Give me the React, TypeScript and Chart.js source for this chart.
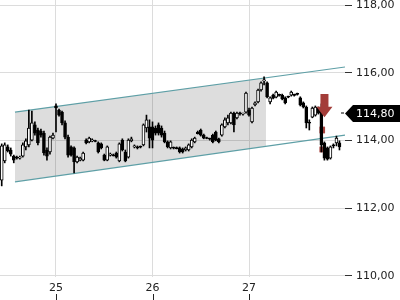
import React, { useEffect, useRef } from "react";
import { Chart, registerables } from "chart.js";

Chart.register(...registerables);

// ---- data ----
const START_DAY = 24.4375; // first candle (day units on x)
const STEP_DAY = 1 / 32;   // candle interval

const opens = [
  112.83, 113.4, 113.81, 113.72, 113.54, 113.51, 113.48, 113.54, 113.81, 113.87,
  114.01, 114.46, 114.31, 114.28, 114.22, 113.72, 113.66, 114.07, 115.02, 114.9,
  114.84, 114.52, 114.1, 113.81, 113.78, 113.37, 113.42, 113.42, 114.01, 113.96,
  113.99, 113.99, 113.93, 113.9, 113.57, 113.42, 113.57, 113.57, 113.63, 113.4,
  114.01, 113.66, 113.51, 113.99, 113.81, 113.81, 113.81, 113.87, 114.37, 114.4,
  114.4, 114.37, 114.46, 114.37, 114.22, 113.96, 113.78, 113.78, 113.78, 113.78,
  113.75, 113.72, 113.72, 113.81, 113.96, 114.25, 114.31, 114.16, 114.07, 114.05,
  114.16, 114.25, 114.05, 114.16, 114.4, 114.52, 114.52, 114.81, 114.67, 114.81,
  114.78, 114.84, 114.9, 114.55, 115.05, 115.14, 115.49, 115.76, 115.7, 115.14,
  115.34, 115.28, 115.34, 115.34, 115.26, 115.29, 115.34, 115.34, 115.37, 115.26,
  115.11, 114.99, 114.52, 114.69, 114.75, 114.96, 114.96, 113.93, 113.78, 113.48,
  113.87, 113.93, 113.93,
];
const highs = [
  113.9, 113.93, 113.87, 113.78, 113.57, 113.54, 113.54, 113.93, 114.05, 114.9,
  114.87, 114.55, 114.37, 114.34, 114.28, 113.78, 114.13, 114.22, 115.08, 114.93,
  114.87, 114.58, 114.16, 113.84, 113.81, 113.54, 113.51, 113.66, 114.05, 114.1,
  114.05, 114.01, 113.96, 113.93, 113.6, 113.84, 113.63, 113.6, 113.66, 113.93,
  114.05, 113.72, 114.05, 114.1, 113.87, 113.84, 113.84, 114.49, 114.75, 114.61,
  114.55, 114.43, 114.52, 114.43, 114.28, 113.99, 113.99, 113.81, 113.81, 113.81,
  113.78, 113.81, 113.9, 114.05, 114.1, 114.28, 114.34, 114.19, 114.1, 114.07,
  114.19, 114.28, 114.07, 114.49, 114.67, 114.75, 114.84, 114.84, 114.84, 114.84,
  114.81, 115.43, 114.96, 114.99, 115.14, 115.52, 115.73, 115.88, 115.73, 115.29,
  115.37, 115.46, 115.37, 115.37, 115.29, 115.31, 115.46, 115.37, 115.4, 115.29,
  115.14, 115.02, 114.61, 114.99, 115.02, 114.99, 115.08, 113.96, 113.81, 113.84,
  113.9, 114.13, 113.99,
];
const lows = [
  112.66, 113.34, 113.66, 113.54, 113.34, 113.45, 113.45, 113.51, 113.72, 113.81,
  113.99, 114.16, 113.87, 114.1, 113.57, 113.42, 113.6, 114.05, 114.25, 114.72,
  114.46, 114.05, 113.51, 113.54, 113.04, 113.34, 113.4, 113.4, 113.9, 113.93,
  113.96, 113.96, 113.63, 113.75, 113.4, 113.4, 113.54, 113.54, 113.48, 113.37,
  113.69, 113.37, 113.48, 113.96, 113.78, 113.75, 113.78, 113.84, 114.25, 113.78,
  113.78, 114.16, 114.16, 114.1, 113.93, 113.78, 113.75, 113.75, 113.75, 113.63,
  113.63, 113.69, 113.69, 113.78, 113.93, 114.19, 114.13, 114.05, 114.05, 114.01,
  113.93, 113.99, 113.93, 114.13, 114.37, 114.46, 114.49, 114.25, 114.64, 114.75,
  114.75, 114.81, 114.72, 114.52, 115.02, 115.11, 115.46, 115.64, 115.26, 115.08,
  115.23, 115.26, 115.31, 115.2, 115.08, 115.26, 115.31, 115.31, 115.34, 115.02,
  114.96, 114.37, 114.31, 114.67, 114.72, 114.78, 113.66, 113.42, 113.42, 113.45,
  113.78, 113.84, 113.72,
];
const closes = [
  113.84, 113.87, 113.69, 113.6, 113.42, 113.48, 113.51, 113.87, 113.99, 114.37,
  114.52, 114.22, 113.93, 114.16, 113.63, 113.54, 114.1, 114.16, 114.96, 114.75,
  114.52, 114.1, 113.57, 113.57, 113.37, 113.51, 113.48, 113.63, 113.93, 114.07,
  114.01, 113.97, 113.66, 113.78, 113.42, 113.81, 113.6, 113.55, 113.51, 113.9,
  113.72, 113.4, 114.01, 114.05, 113.84, 113.78, 113.8, 114.46, 114.61, 114.07,
  114.01, 114.22, 114.22, 114.16, 113.96, 113.81, 113.96, 113.77, 113.76, 113.66,
  113.66, 113.78, 113.87, 114.01, 114.07, 114.2, 114.16, 114.07, 114.06, 114.04,
  113.96, 114.01, 113.96, 114.46, 114.61, 114.67, 114.81, 114.46, 114.81, 114.79,
  114.81, 115.4, 114.75, 114.96, 115.11, 115.49, 115.7, 115.79, 115.29, 115.26,
  115.25, 115.43, 115.33, 115.23, 115.11, 115.28, 115.43, 115.33, 115.36, 115.05,
  114.99, 114.52, 114.51, 114.96, 114.99, 114.81, 113.87, 113.48, 113.45, 113.81,
  113.84, 114.07, 113.81,
];

// red highlighted segments on the drop candle
const signalDay = 27.759;
const signalRanges = [
  [114.22, 114.4],
  [113.66, 113.81],
];

// trend channel (day, price)
const channelUpper = [
  { x: 24.575, y: 114.84 },
  { x: 27.995, y: 116.17 },
];
const channelLower = [
  { x: 24.575, y: 112.78 },
  { x: 27.995, y: 114.16 },
];
const shadeTop = [
  { x: 24.575, y: 114.84 },
  { x: 27.176, y: 115.85 },
];
const shadeBottom = [
  { x: 24.575, y: 112.78 },
  { x: 27.176, y: 113.83 },
];

const xTicks = [25, 26, 27];
const yTicks = [110, 112, 114, 116, 118];
const lastPrice = 114.8;
const arrowDay = 27.782;
const arrowTop = 115.37;
const arrowNeck = 115.0;
const arrowTip = 114.69;

const fmt = (v: number) => v.toFixed(2).replace(".", ",");

export default function App() {
  const ref = useRef<HTMLCanvasElement>(null);

  useEffect(() => {
    if (!ref.current) return;
    const times = opens.map((_, i) => START_DAY + i * STEP_DAY);
    const wickData = times.map((t, i) => ({ x: t, y: [lows[i], highs[i]] }));
    const bodyData = times.map((t, i) => ({ x: t, y: [opens[i], closes[i]] }));
    const bodyColors = closes.map((c, i) => (c >= opens[i] ? "#ffffff" : "#000000"));
    const signalData = signalRanges.map((r) => ({ x: signalDay, y: r }));

    const overlay = {
      id: "overlay",
      afterDraw(chart: any) {
        const ctx = chart.ctx;
        const xs = chart.scales.x;
        const ys = chart.scales.y;
        const ca = chart.chartArea;
        ctx.save();
        // x tick marks below labels
        ctx.strokeStyle = "#222";
        ctx.lineWidth = 1;
        xTicks.forEach((v) => {
          const px = Math.round(xs.getPixelForValue(v)) + 0.5;
          ctx.beginPath();
          ctx.moveTo(px, chart.height - 6);
          ctx.lineTo(px, chart.height);
          ctx.stroke();
        });
        // red arrow
        const ax = xs.getPixelForValue(arrowDay);
        const aTop = ys.getPixelForValue(arrowTop);
        const aNeck = ys.getPixelForValue(arrowNeck);
        const aTip = ys.getPixelForValue(arrowTip);
        ctx.fillStyle = "#a33d39";
        ctx.beginPath();
        ctx.moveTo(ax - 4, aTop);
        ctx.lineTo(ax + 4, aTop);
        ctx.lineTo(ax + 4, aNeck);
        ctx.lineTo(ax + 8, aNeck);
        ctx.lineTo(ax, aTip);
        ctx.lineTo(ax - 8, aNeck);
        ctx.lineTo(ax - 4, aNeck);
        ctx.closePath();
        ctx.fill();
        // last price tag
        const py = ys.getPixelForValue(lastPrice);
        ctx.fillStyle = "#000";
        ctx.fillRect(ca.right - 4, Math.round(py) - 0.5, 3, 1);
        ctx.beginPath();
        ctx.moveTo(ca.right, py);
        ctx.lineTo(ca.right + 8, py - 8.5);
        ctx.lineTo(chart.width, py - 8.5);
        ctx.lineTo(chart.width, py + 8.5);
        ctx.lineTo(ca.right + 8, py + 8.5);
        ctx.closePath();
        ctx.fill();
        ctx.fillStyle = "#fff";
        ctx.font = "11px 'DejaVu Sans'";
        ctx.textBaseline = "middle";
        ctx.textAlign = "left";
        ctx.fillText(fmt(lastPrice), ca.right + 11, py + 0.5);
        ctx.restore();
      },
    };

    const chart = new Chart(ref.current, {
      type: "bar",
      data: {
        datasets: [
          {
            type: "bar",
            label: "body",
            data: bodyData as any,
            backgroundColor: bodyColors,
            borderColor: "#000",
            borderWidth: 1,
            borderSkipped: false,
            barThickness: 3,
            minBarLength: 1,
            grouped: false,
            order: 1,
          } as any,
          {
            type: "bar",
            label: "wick",
            data: wickData as any,
            backgroundColor: "#000",
            borderWidth: 0,
            barThickness: 1,
            grouped: false,
            order: 2,
          } as any,
          {
            type: "bar",
            label: "signal",
            data: signalData as any,
            backgroundColor: "#a8443f",
            borderWidth: 0,
            barThickness: 5,
            grouped: false,
            order: 3,
          } as any,
          {
            type: "line",
            label: "upper",
            data: channelUpper,
            borderColor: "#5e9fa6",
            borderWidth: 1.2,
            pointRadius: 0,
            fill: false,
            order: 5,
          } as any,
          {
            type: "line",
            label: "lower",
            data: channelLower,
            borderColor: "#5e9fa6",
            borderWidth: 1.2,
            pointRadius: 0,
            fill: false,
            order: 5,
          } as any,
          {
            type: "line",
            label: "shadeTop",
            data: shadeTop,
            borderWidth: 0,
            pointRadius: 0,
            fill: false,
            order: 10,
          } as any,
          {
            type: "line",
            label: "shadeBottom",
            data: shadeBottom,
            borderWidth: 0,
            pointRadius: 0,
            fill: "-1",
            backgroundColor: "rgba(0,0,0,0.135)",
            order: 10,
          } as any,
        ],
      },
      options: {
        animation: false,
        responsive: false,
        maintainAspectRatio: false,
        layout: { padding: 0 },
        plugins: {
          legend: { display: false },
          tooltip: { enabled: false },
        },
        scales: {
          x: {
            type: "linear",
            min: 24.4197,
            max: 27.9948,
            offset: false,
            grid: { color: "#dcdcdc", drawTicks: false, offset: false },
            border: { display: false },
            ticks: {
              font: { family: "DejaVu Sans", size: 11 },
              color: "#222",
              padding: 5,
              maxRotation: 0,
              callback: (v: any) => String(v),
            },
            afterBuildTicks: (s: any) => {
              s.ticks = xTicks.map((v) => ({ value: v }));
            },
            afterFit: (s: any) => {
              s.height = 23;
              s.paddingLeft = 0;
              s.paddingRight = 0;
            },
          },
          y: {
            type: "linear",
            position: "right",
            min: 109.97,
            max: 118.148,
            grid: { color: "#dcdcdc", tickLength: 7, tickColor: "#333" },
            border: { display: false },
            ticks: {
              font: { family: "DejaVu Sans", size: 11 },
              color: "#222",
              padding: 4,
              callback: (v: any) => fmt(Number(v)),
            },
            afterBuildTicks: (s: any) => {
              s.ticks = yTicks.map((v) => ({ value: v }));
            },
            afterFit: (s: any) => {
              s.width = 55;
              s.paddingTop = 0;
              s.paddingBottom = 0;
            },
          },
        },
      } as any,
      plugins: [overlay],
    });
    return () => chart.destroy();
  }, []);

  return (
    <div style={{ position: "fixed", left: 0, top: 0, width: 400, height: 300, background: "#fff" }}>
      <canvas ref={ref} width={400} height={300} style={{ display: "block" }} />
    </div>
  );
}
